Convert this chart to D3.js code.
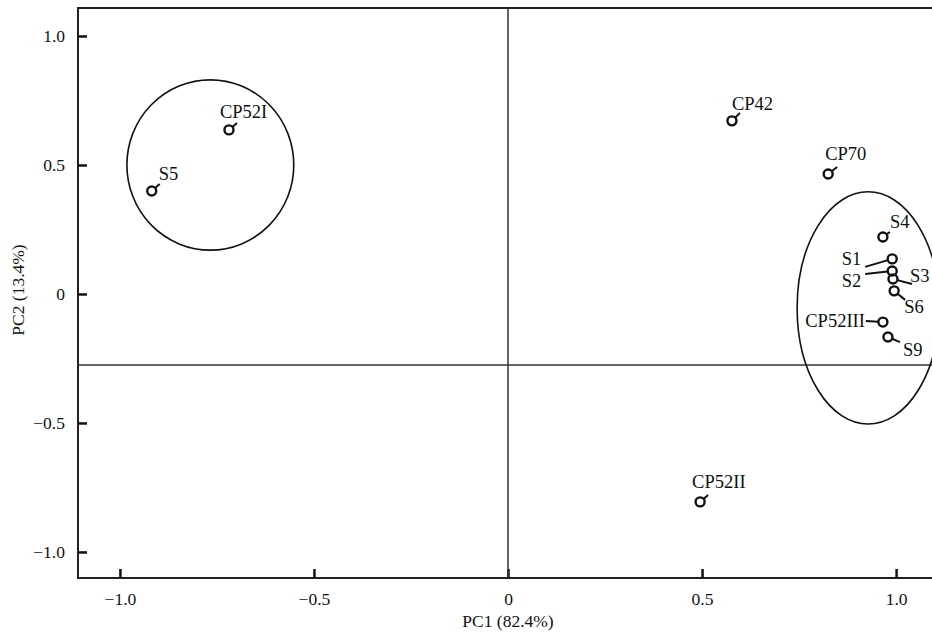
<!DOCTYPE html>
<html>
<head>
<meta charset="utf-8">
<script src="https://cdn.jsdelivr.net/npm/d3@7"></script>
<style>
  body { margin: 0; background: #fff; }
  text { font-family: "Liberation Serif", "DejaVu Serif", serif; fill: #111; }
</style>
</head>
<body>
<div class="pcaChart"></div>
<script>
// sample names and PCA scores
const names = ['CP52I', 'S5', 'CP42', 'CP70', 'CP52II', 'S4', 'S1', 'S2', 'S3', 'S6', 'CP52III', 'S9'];
const pc1 = [-0.719, -0.918, 0.577, 0.825, 0.495, 0.966, 0.990, 0.990, 0.992, 0.995, 0.966, 0.979];
const pc2 = [0.636, 0.399, 0.671, 0.465, -0.806, 0.221, 0.136, 0.089, 0.058, 0.012, -0.109, -0.167];

const xTicks = [-1.0, -0.5, 0, 0.5, 1.0];
const yTicks = [-1.0, -0.5, 0, 0.5, 1.0];

// group ellipses: centre, radii (data units)
const groupCx = [-0.767, 0.928];
const groupCy = [0.50, -0.054];
const groupRx = [0.215, 0.183];
const groupRy = [0.33, 0.45];

const refX = 0;       // vertical guide
const refY = -0.275;  // horizontal guide

// label placement in pixels: text offset, anchor, leader end
const labelPos = {
  'CP52I':   { dx: -9,  dy: -12, anchor: 'start', lx: 8,   ly: -7 },
  'S5':      { dx: 7,   dy: -11, anchor: 'start', lx: 8,   ly: -7 },
  'CP42':    { dx: 0,   dy: -11, anchor: 'start', lx: 8,   ly: -8 },
  'CP70':    { dx: -3,  dy: -14, anchor: 'start', lx: 9,   ly: -7 },
  'CP52II':  { dx: -8,  dy: -14, anchor: 'start', lx: 8,   ly: -7 },
  'S4':      { dx: 7,   dy: -9,  anchor: 'start', lx: 7,   ly: -5 },
  'S1':      { dx: -31, dy: 6,   anchor: 'end',   lx: -27, ly: 8 },
  'S2':      { dx: -31, dy: 16,  anchor: 'end',   lx: -27, ly: 3 },
  'S3':      { dx: 17,  dy: 3,   anchor: 'start', lx: 19,  ly: 5 },
  'S6':      { dx: 10,  dy: 22,  anchor: 'start', lx: 11,  ly: 9 },
  'CP52III': { dx: -18, dy: 5,   anchor: 'end',   lx: -17, ly: -1 },
  'S9':      { dx: 15,  dy: 19,  anchor: 'start', lx: 12,  ly: 5 }
};

const W = 932, H = 634;
const svg = d3.select('.pcaChart').append('svg')
  .attr('width', W).attr('height', H);

const scX = d3.scaleLinear().domain([-1.108, 1.108]).range([78, 938]);
const scY = d3.scaleLinear().domain([-1.101, 1.1085]).range([578, 8]);

const fmt = d => d === 0 ? '0' : d3.format('.1f')(d).replace('-', '\u2212');

// frame
svg.append('rect')
  .attr('x', scX(-1.108)).attr('y', scY(1.1085))
  .attr('width', scX(1.108) - scX(-1.108))
  .attr('height', scY(-1.101) - scY(1.1085))
  .attr('fill', 'none').attr('stroke', '#222').attr('stroke-width', 2);

// axes with inward ticks
const gx = svg.append('g')
  .attr('transform', 'translate(0,' + scY(-1.101) + ')')
  .call(d3.axisBottom(scX).tickValues(xTicks).tickFormat(fmt)
    .tickSizeInner(-9).tickSizeOuter(0).tickPadding(15));
const gy = svg.append('g')
  .attr('transform', 'translate(' + scX(-1.108) + ',0)')
  .call(d3.axisLeft(scY).tickValues(yTicks).tickFormat(fmt)
    .tickSizeInner(-9).tickSizeOuter(0).tickPadding(13));
[gx, gy].forEach(g => {
  g.select('.domain').remove();
  g.selectAll('.tick line').attr('stroke', '#111').attr('stroke-width', 2.5);
  g.selectAll('.tick text')
    .attr('font-family', '"Liberation Serif", serif')
    .attr('font-size', 17.5).attr('fill', '#111');
});

// guide lines
svg.append('line')
  .attr('x1', scX(refX)).attr('x2', scX(refX))
  .attr('y1', scY(1.1085)).attr('y2', scY(-1.101))
  .attr('stroke', '#333').attr('stroke-width', 1.5);
svg.append('line')
  .attr('x1', scX(-1.108)).attr('x2', scX(1.108))
  .attr('y1', scY(refY)).attr('y2', scY(refY))
  .attr('stroke', '#333').attr('stroke-width', 1.5);

// group ellipses
svg.append('g').selectAll('ellipse').data(groupCx).enter()
  .append('ellipse')
  .attr('cx', (d, i) => scX(d))
  .attr('cy', (d, i) => scY(groupCy[i]))
  .attr('rx', (d, i) => scX(groupRx[i]) - scX(0))
  .attr('ry', (d, i) => scY(0) - scY(groupRy[i]))
  .attr('fill', 'none').attr('stroke', '#111').attr('stroke-width', 1.6);

// points
const pts = names.map((n, i) => ({ name: n, x: pc1[i], y: pc2[i] }));
const r = 4.5;
const gp = svg.append('g');

// leader lines
gp.selectAll('line.leader').data(pts).enter()
  .append('line').attr('class', 'leader')
  .attr('x1', d => {
    const p = labelPos[d.name], L = Math.hypot(p.lx, p.ly);
    return scX(d.x) + r * p.lx / L;
  })
  .attr('y1', d => {
    const p = labelPos[d.name], L = Math.hypot(p.lx, p.ly);
    return scY(d.y) + r * p.ly / L;
  })
  .attr('x2', d => scX(d.x) + labelPos[d.name].lx)
  .attr('y2', d => scY(d.y) + labelPos[d.name].ly)
  .attr('stroke', '#111').attr('stroke-width', 2);

gp.selectAll('circle').data(pts).enter()
  .append('circle')
  .attr('cx', d => scX(d.x)).attr('cy', d => scY(d.y)).attr('r', r)
  .attr('fill', 'none').attr('stroke', '#111').attr('stroke-width', 2.4);

gp.selectAll('text').data(pts).enter()
  .append('text')
  .attr('x', d => scX(d.x) + labelPos[d.name].dx)
  .attr('y', d => scY(d.y) + labelPos[d.name].dy)
  .attr('text-anchor', d => labelPos[d.name].anchor)
  .attr('font-size', 18.5)
  .text(d => d.name);

// axis titles
svg.append('text')
  .attr('x', scX(0)).attr('y', 627)
  .attr('text-anchor', 'middle').attr('font-size', 17.5)
  .text('PC1 (82.4%)');
svg.append('text')
  .attr('transform', 'translate(24,' + 290 + ') rotate(-90)')
  .attr('text-anchor', 'middle').attr('font-size', 17.5)
  .text('PC2 (13.4%)');
</script>
</body>
</html>
